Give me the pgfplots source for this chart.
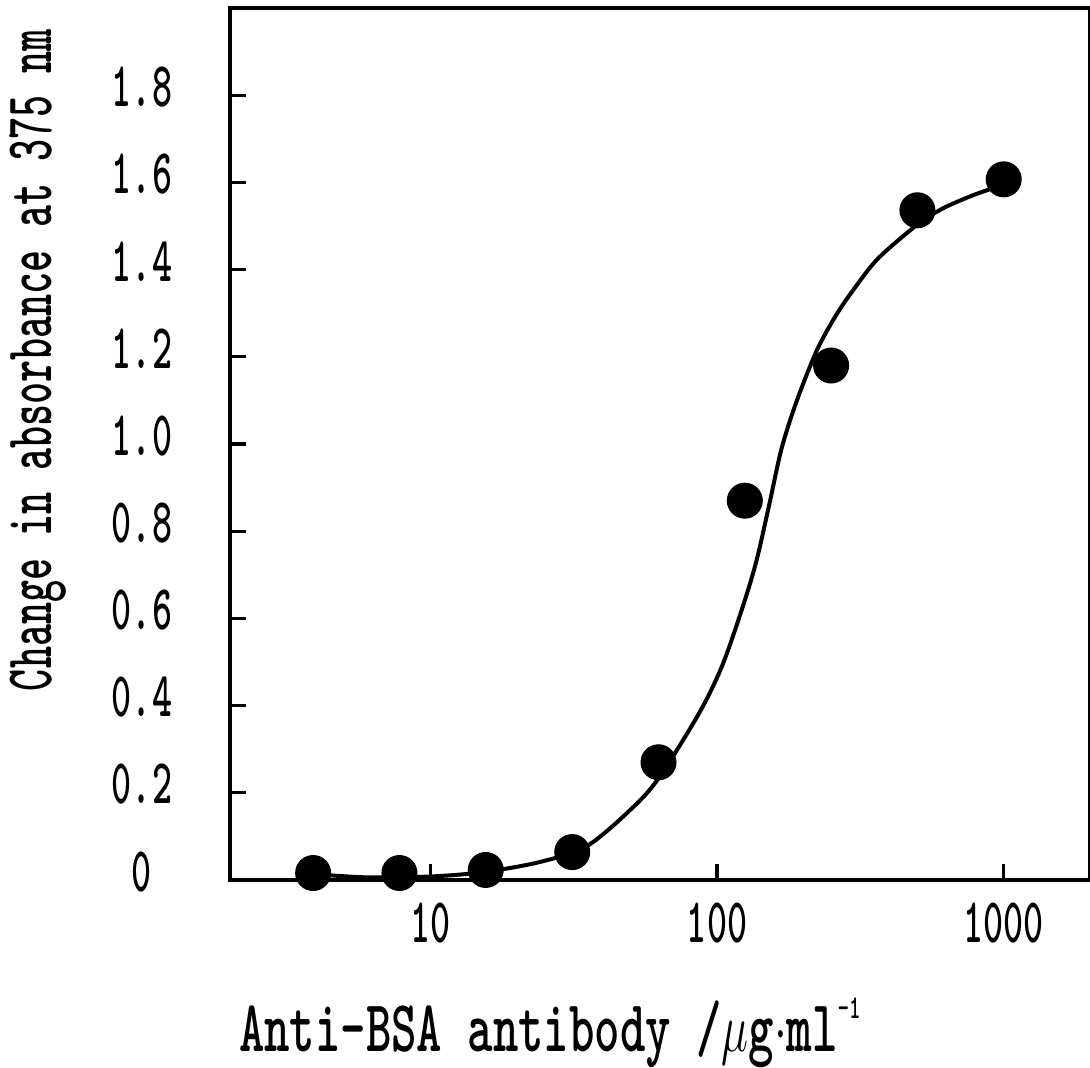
\documentclass[border=0pt]{standalone}
\usepackage{graphicx}
\usepackage{pgfplots}
\pgfplotsset{compat=1.18}
\newcommand{\tk}[1]{\scalebox{0.6}[1]{\fontsize{19.1}{21}\selectfont\ttfamily\bfseries #1}}
\newcommand{\lb}[3]{\scalebox{#1}[1]{\fontsize{#2}{24}\selectfont\ttfamily\bfseries #3}}
\begin{document}
\begin{tikzpicture}
\begin{axis}[
  scale only axis,
  width=258pt, height=261.6pt,
  xmode=log, log basis x=10,
  xmin=2, xmax=2000, ymin=0, ymax=2.0,
  axis line style={line width=1.3pt},
  xtick={10,100,1000},
  xticklabels={\tk{10},\tk{100},\tk{1000}},
  minor xtick={},
  ytick={0,0.2,0.4,0.6,0.8,1.0,1.2,1.4,1.6,1.8},
  yticklabels={\tk{0},\tk{0.2},\tk{0.4},\tk{0.6},\tk{0.8},\tk{1.0},\tk{1.2},\tk{1.4},\tk{1.6},\tk{1.8}},
  tick pos=left, tick align=inside,
  major tick length=4.8pt,
  tick style={line width=1pt, black},
  xticklabel style={anchor=north, inner sep=0pt, yshift=-6.6pt},
  yticklabel style={anchor=center, inner sep=0pt, xshift=-26.4pt, yshift=2.5pt},
  xlabel={\lb{0.66}{22}{Anti-BSA antibody /$\mu$g$\cdot$ml\raisebox{1.05ex}{\fontsize{10}{10}\selectfont -1}}},
  xlabel style={at={(axis description cs:0.372,0)}, anchor=base, yshift=-51.6pt, inner sep=0pt},
  ylabel={\lb{0.63}{20}{Change in absorbance at 375 nm}},
  ylabel style={at={(axis description cs:-0.207,0.596)}, anchor=base, rotate=0, inner sep=0pt},
  clip=false,
]
\addplot[black, line width=1.2pt, smooth, tension=0.5] coordinates {
  (3.82,0.014) (6,0.006) (10,0.008) (15.3,0.018) (24,0.041)
  (35.2,0.078) (50.6,0.165) (62.8,0.235) (86.5,0.382) (104,0.49)
  (122,0.62) (137,0.73) (152,0.86) (168,0.99) (190,1.10) (223,1.215)
  (260,1.295) (300,1.355) (364,1.425) (493,1.50) (612,1.54) (800,1.573) (1057,1.600)
};
\addplot[only marks, mark=*, mark size=5.2pt, black] coordinates {
  (3.9,0.016) (7.8,0.016) (15.6,0.023) (31.25,0.064) (62.5,0.27)
  (125,0.87) (250,1.18) (500,1.536) (1000,1.607)
};
\end{axis}
\pgfresetboundingbox
\path (current axis.south west) ++(-69pt,-56.4pt) rectangle ++(327pt,320.4pt);
\end{tikzpicture}
\end{document}
